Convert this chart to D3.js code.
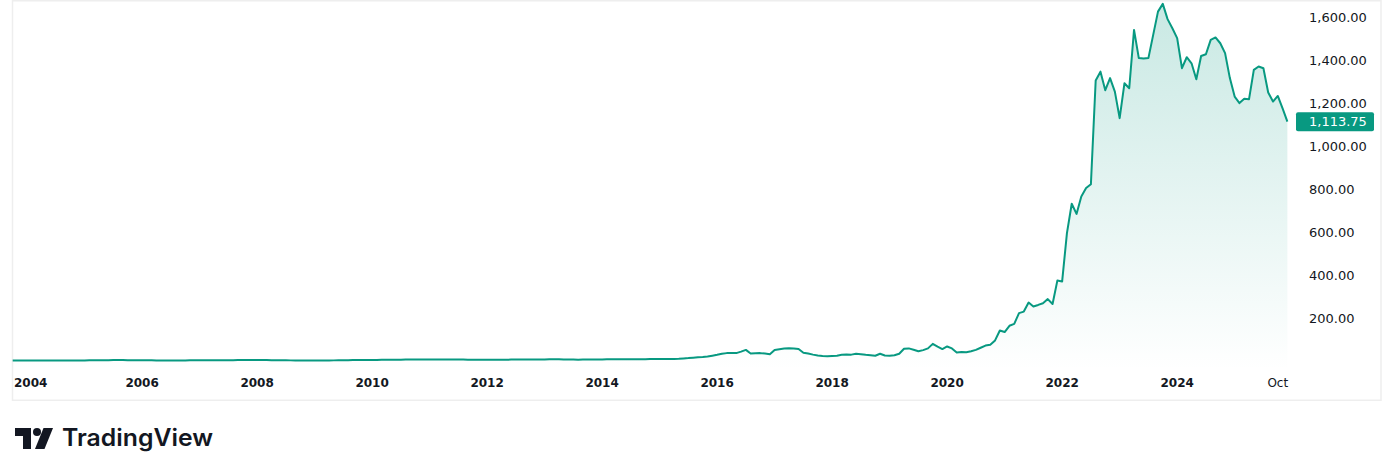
<!DOCTYPE html>
<html>
<head>
<meta charset="utf-8">
<script src="https://cdn.jsdelivr.net/npm/d3@7/dist/d3.min.js"></script>
<style>
  html, body { margin: 0; padding: 0; background: #ffffff; }
  svg { display: block; }
</style>
</head>
<body>
<svg id="chart" width="1394" height="476"></svg>
<script>
// ---- Data (monthly closes, Oct 2003 .. Dec 2025) ----
const startMonth = "2003-10";
const values = [
  3.2,3.3,3.4,3.5,3.4,3.5,3.6,3.5,3.6,3.7,3.8,3.9,
  4.0,4.1,4.2,4.3,4.4,4.6,4.8,5.0,5.3,5.6,6.2,5.8,
  5.4,5.0,4.8,4.6,4.5,4.4,4.3,4.2,4.3,4.2,4.1,4.2,
  4.3,4.4,4.4,4.5,4.6,4.7,4.8,4.9,5.0,5.2,5.4,5.6,
  5.8,6.0,6.2,6.5,6.0,5.6,5.3,5.0,4.8,4.6,4.3,4.0,
  3.6,3.4,3.3,3.4,3.5,3.7,4.0,4.3,4.7,5.0,5.4,5.8,
  6.0,6.2,6.3,6.5,6.6,6.8,7.0,7.2,7.4,7.5,7.8,8.0,
  8.3,8.5,8.4,8.2,8.0,7.8,8.0,8.2,8.4,8.2,7.9,7.6,
  7.4,7.3,7.2,7.3,7.4,7.5,7.6,7.7,7.8,7.9,8.0,8.1,
  8.2,8.3,8.5,8.8,9.0,9.2,9.0,8.6,8.2,7.8,7.6,7.8,
  8.0,8.3,8.6,8.8,9.0,9.2,9.4,9.6,9.8,9.9,10.0,
  10,10,10.2,10.3,10.2,10.5,10.8,11,12,13.5,15,17,
  19,20,22,26,30,35,38,38,38,45,53,36,
  37,38,36,33,53,56,59,61,60,57,40,36,
  31,27,25,24,25,26,30,32,31,35,33,30,
  28,26,35,27,26,28,35,58,60,54,47,52,
  60,81,68,57,69,60,41,43,42,47,53,63,
  73,77,97,143,136,165,174,224,231,273,255,262,
  270,289,266,375,371,596,732,685,766,805,823,1305,
  1346,1260,1316,1253,1130,1292,1269,1540,1409,1407,1409,1517,
  1625,1661,1590,1548,1502,1362,1413,1385,1311,1419,1427,1494,
  1505,1478,1432,1316,1230,1200,1220,1218,1354,1370,1362,1249,
  1207,1233,1175,1113.75
];
const xTickMonths = ["2004-01","2006-01","2008-01","2010-01","2012-01","2014-01","2016-01","2018-01","2020-01","2022-01","2024-01","2025-10"];
const xTickLabels = ["2004","2006","2008","2010","2012","2014","2016","2018","2020","2022","2024","Oct"];
const xTickBold   = [true,true,true,true,true,true,true,true,true,true,true,false];
const yTicks = [200,400,600,800,1000,1200,1400,1600];
const lastValue = 1113.75;

// ---- Helpers ----
const parseM = d3.timeParse("%Y-%m");
const start = parseM(startMonth);
const monthIndex = s => d3.timeMonth.count(start, parseM(s));
const data = values.map((v, i) => ({ i, v }));

const svg = d3.select("#chart");
const COLOR = "#089981";
const TEXT = "#131722";
const FONT = "'DejaVu Sans', sans-serif";

const x = d3.scaleLinear().domain([0, values.length - 1]).range([12.7, 12.7 + (values.length - 1) * 4.792]);
const y = d3.scaleLinear().domain([0, 1600]).range([361.3, 17]);
const paneBottom = 370;

// frame
svg.append("rect")
  .attr("x", 12.5).attr("y", 0.75).attr("width", 1368.5).attr("height", 399.5)
  .attr("fill", "none").attr("stroke", "#eeeeee").attr("stroke-width", 1.5);

// gradient
const defs = svg.append("defs");
const grad = defs.append("linearGradient")
  .attr("id", "areaGrad").attr("gradientUnits", "userSpaceOnUse")
  .attr("x1", 0).attr("x2", 0)
  .attr("y1", y(d3.max(values))).attr("y2", paneBottom);
grad.append("stop").attr("offset", "0").attr("stop-color", COLOR).attr("stop-opacity", 0.22);
grad.append("stop").attr("offset", "1").attr("stop-color", COLOR).attr("stop-opacity", 0.0);

// area
svg.append("path")
  .datum(data)
  .attr("fill", "url(#areaGrad)")
  .attr("d", d3.area().x(d => x(d.i)).y0(paneBottom).y1(d => y(d.v)));

// line
svg.append("path")
  .datum(data)
  .attr("fill", "none")
  .attr("stroke", COLOR)
  .attr("stroke-width", 2)
  .attr("stroke-linejoin", "round")
  .attr("d", d3.line().x(d => x(d.i)).y(d => y(d.v)));

// y axis labels
const fmt = d3.format(",.2f");
svg.append("g").selectAll("text").data(yTicks).join("text")
  .attr("x", 1309).attr("y", d => y(d)).attr("dy", "0.35em")
  .attr("font-family", FONT).attr("font-size", 13).attr("fill", TEXT)
  .text(d => fmt(d));

// current price label
const ly = y(lastValue);
svg.append("rect")
  .attr("x", 1296).attr("y", ly - 9.5).attr("width", 78).attr("height", 19)
  .attr("rx", 2).attr("fill", COLOR);
svg.append("text")
  .attr("x", 1309).attr("y", ly).attr("dy", "0.35em")
  .attr("font-family", FONT).attr("font-size", 13).attr("fill", "#ffffff")
  .text(fmt(lastValue));

// x axis labels
const xg = svg.append("g");
xTickMonths.forEach((m, k) => {
  const t = xg.append("text")
    .attr("x", x(monthIndex(m))).attr("y", 383).attr("dy", "0.35em")
    .attr("text-anchor", "middle")
    .attr("font-family", FONT).attr("font-size", 12)
    .attr("font-weight", xTickBold[k] ? "bold" : "normal")
    .attr("fill", TEXT)
    .text(xTickLabels[k]);
  const w = t.node().getComputedTextLength();
  const cx = x(monthIndex(m));
  if (cx - w / 2 < 14) t.attr("x", 14 + w / 2);
});

// TradingView logo
const logo = svg.append("g").attr("fill", TEXT);
logo.append("path").attr("d", "M15,428 H31 V449 H23 V436 H15 Z");
logo.append("circle").attr("cx", 37).attr("cy", 432).attr("r", 4);
logo.append("path").attr("d", "M43.5,428 H53 L44.5,449 H35 Z");
svg.append("text")
  .attr("x", 62).attr("y", 446)
  .attr("font-family", "Inter, 'DejaVu Sans', sans-serif")
  .attr("font-size", 24).attr("font-weight", 600).attr("fill", TEXT)
  .attr("textLength", 151).attr("lengthAdjust", "spacingAndGlyphs")
  .text("TradingView");
</script>
</body>
</html>
